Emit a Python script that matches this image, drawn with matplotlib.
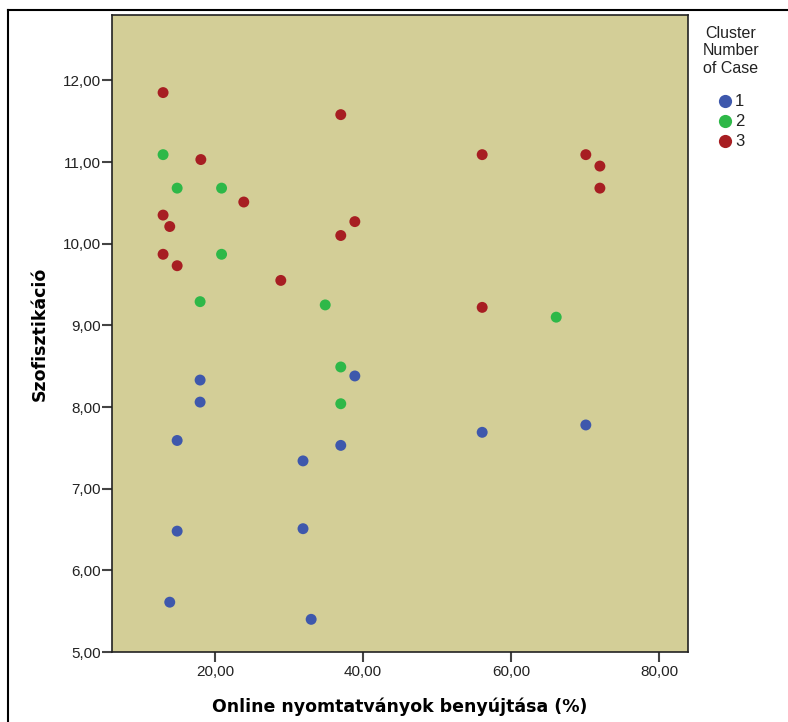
import matplotlib
matplotlib.use('Agg')
import matplotlib.pyplot as plt
from matplotlib.ticker import FuncFormatter

## Data
clusters = ['1', '2', '3']

x1 = [18.0, 38.9, 18.0, 14.9, 37.0, 31.9, 56.1, 70.1, 14.9, 31.9, 13.9, 33.0]
y1 = [8.33, 8.38, 8.06, 7.59, 7.53, 7.34, 7.69, 7.78, 6.48, 6.51, 5.61, 5.40]

x2 = [13.0, 14.9, 20.9, 20.9, 18.0, 34.9, 66.1, 37.0, 37.0]
y2 = [11.09, 10.68, 10.68, 9.87, 9.29, 9.25, 9.10, 8.49, 8.04]

x3 = [13.0, 37.0, 18.1, 56.1, 70.1, 72.0, 72.0, 23.9, 13.0, 13.9, 38.9, 37.0,
      13.0, 14.9, 28.9, 56.1]
y3 = [11.85, 11.58, 11.03, 11.09, 11.09, 10.95, 10.68, 10.51, 10.35, 10.21,
      10.27, 10.10, 9.87, 9.73, 9.55, 9.22]

colors = ['#3E58AC', '#2EB848', '#A71E22']

x_ticks = [20, 40, 60, 80]
y_ticks = [5, 6, 7, 8, 9, 10, 11, 12]

plt.rcParams['font.family'] = ['Liberation Sans', 'DejaVu Sans']

W, H = 788, 722
fig = plt.figure(figsize=(W / 100, H / 100), dpi=100)
ax = fig.add_axes([112 / W, 70 / H, 576 / W, 637 / H])
ax.set_facecolor('#D3CE97')

for xs, ys, c, lab in zip([x1, x2, x3], [y1, y2, y3], colors, clusters):
    ax.scatter(xs, ys, s=62, color=c, edgecolors='none', label=lab, zorder=3)

ax.set_xlim(6.1, 83.9)
ax.set_ylim(5.0, 12.8)
ax.set_xticks(x_ticks)
ax.set_yticks(y_ticks)
comma_fmt = FuncFormatter(lambda v, p: '{:.2f}'.format(v).replace('.', ','))
ax.xaxis.set_major_formatter(comma_fmt)
ax.yaxis.set_major_formatter(comma_fmt)
ax.tick_params(axis='both', direction='out', length=7, width=1.5, color='#444444',
               labelsize=11, labelcolor='#222222')
ax.tick_params(axis='x', pad=2)
ax.tick_params(axis='y', pad=1)
for sp in ax.spines.values():
    sp.set_linewidth(1.2)
    sp.set_color('#222222')

ax.set_xlabel('Online nyomtatványok benyújtása (%)', family='DejaVu Sans',
              fontweight='bold', fontsize=12.5, labelpad=14)
ax.set_ylabel('Szofisztikáció', family='DejaVu Sans', fontweight='bold',
              fontsize=12.5, labelpad=10)

# legend, laid out by hand like the SPSS one
fig.text(731 / W, 1 - 26 / H, 'Cluster\nNumber\nof Case', ha='center', va='top',
         fontsize=11.5, color='#222222', linespacing=1.2)
for i, (c, lab) in enumerate(zip(colors, clusters)):
    yy = 1 - (101 + 20 * i) / H
    fig.add_artist(plt.Line2D([725 / W], [yy], marker='o', markersize=9.5, color=c,
                              markeredgecolor='none', transform=fig.transFigure))
    fig.text(735 / W, yy, lab, ha='left', va='center', fontsize=12, color='#222222')

# outer frame (SPSS chart border)
fig.add_artist(plt.Line2D([8 / W, 8 / W], [0, 1 - 10 / H], color='black',
                          lw=1.5, transform=fig.transFigure))
fig.add_artist(plt.Line2D([8 / W, 1], [1 - 10 / H, 1 - 10 / H], color='black',
                          lw=1.5, transform=fig.transFigure))

fig.savefig('out.png', dpi=100)
